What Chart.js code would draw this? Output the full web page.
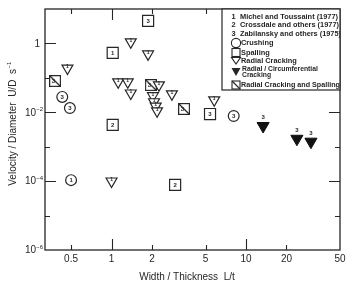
<!DOCTYPE html>
<html><head><meta charset="utf-8">
<script src="https://cdn.jsdelivr.net/npm/chart.js@4"></script>
<style>html,body{margin:0;padding:0;background:#fff;}#wrap{width:350px;height:289px;}</style>
</head><body><div id="wrap"><canvas id="c" width="350" height="289"></canvas></div>
<script>
// ---- data ----
const xTicks = [0.5, 1, 2, 5, 10, 20];
const xTickLabels = ['0.5', '1', '2', '5', '10', '20', '50'];
const xTickLabelValues = [0.5, 1, 2, 5, 10, 20, 50];
const xMajor = [1, 10];
const yTicks = [1, 1e-1, 1e-2, 1e-3, 1e-4, 1e-5];
const yLabelValues = [1, 1e-2, 1e-4, 1e-6];
const yLabelExp = ['0', '-2', '-4', '-6'];

const crushingX = [0.50, 0.43, 0.49, 8.1];
const crushingY = [1.07e-4, 0.028, 0.0133, 0.0078];
const crushingRef = ['1', '3', '3', '3'];

const spallingX = [1.02, 1.02, 1.87, 5.4, 2.97];
const spallingY = [0.53, 0.0043, 4.5, 0.0089, 7.8e-5];
const spallingRef = ['1', '2', '3', '3', '2'];

const radialX = [0.47, 1.39, 1.87, 1.12, 1.32, 1.39, 2.25, 2.03, 2.07, 2.13, 2.18, 2.81, 5.8, 1.0];
const radialY = [0.19, 1.1, 0.49, 0.076, 0.076, 0.036, 0.062, 0.030, 0.020, 0.015, 0.0109, 0.034, 0.0228, 1.0e-4];
const radialRef = ['1', '1', '1', '1', '1', '1', '1', '1', '1', '1', '1', '1', '1', '1'];

const circX = [13.4, 23.9, 30.4];
const circY = [0.0040, 0.0017, 0.0014];
const circRef = ['3', '3', '3'];

const rcsX = [0.38, 1.96, 3.46];
const rcsY = [0.081, 0.062, 0.0125];
const rcsRef = ['3', '3', '3'];

const refNums = ['1', '2', '3'];
const refNames = ['Michel and Toussaint (1977)', 'Crossdale and others (1977)', 'Zabilansky and others (1975)'];
const typeNames = ['Crushing', 'Spalling', 'Radial Cracking', 'Radial / Circumferential', 'Cracking', 'Radial Cracking and Spalling'];

const INK = '#262626';
const FONT = '"Liberation Sans", Arial, sans-serif';

function pts(xs, ys) { return xs.map((x, i) => ({ x: x, y: ys[i] })); }

// square with diagonal marker
function diagSquare(size) {
  const c = document.createElement('canvas');
  c.width = size; c.height = size;
  const g = c.getContext('2d');
  g.fillStyle = '#fff'; g.fillRect(0, 0, size, size);
  g.strokeStyle = INK; g.lineWidth = 1.2;
  g.strokeRect(0.6, 0.6, size - 1.2, size - 1.2);
  g.beginPath(); g.moveTo(1, 1); g.lineTo(size - 1, size - 1); g.stroke();
  return c;
}
const diagImg = diagSquare(12);

const refs = [crushingRef, spallingRef, radialRef, circRef, rcsRef];

const decor = {
  id: 'decor',
  beforeDatasetsDraw(chart) {
    const ctx = chart.ctx, a = chart.chartArea, xs = chart.scales.x, ys = chart.scales.y;
    ctx.save();
    ctx.strokeStyle = INK; ctx.lineWidth = 1.3;
    ctx.strokeRect(a.left, a.top, a.right - a.left, a.bottom - a.top);
    ctx.lineWidth = 1.1;
    ctx.beginPath();
    xTicks.forEach(v => {
      const px = Math.round(xs.getPixelForValue(v)) + 0.5;
      const len = xMajor.includes(v) ? 11 : 5;
      ctx.moveTo(px, a.bottom); ctx.lineTo(px, a.bottom - len);
      ctx.moveTo(px, a.top); ctx.lineTo(px, a.top + len);
    });
    yTicks.forEach(v => {
      const py = Math.round(ys.getPixelForValue(v)) + 0.5;
      const len = yLabelValues.includes(v) ? 11 : 5;
      ctx.moveTo(a.left, py); ctx.lineTo(a.left + len, py);
      ctx.moveTo(a.right, py); ctx.lineTo(a.right - len, py);
    });
    ctx.stroke();
    // x tick labels
    ctx.fillStyle = INK;
    ctx.font = '10px ' + FONT;
    ctx.textAlign = 'center'; ctx.textBaseline = 'middle';
    xTickLabelValues.forEach((v, i) => {
      ctx.fillText(xTickLabels[i], xs.getPixelForValue(v), a.bottom + 9);
    });
    // y tick labels with superscript exponents
    yLabelValues.forEach((v, i) => {
      const py = ys.getPixelForValue(v);
      const e = yLabelExp[i];
      ctx.textAlign = 'right';
      if (e === '0') {
        ctx.font = '10px ' + FONT;
        ctx.fillText('1', a.left - 5, py + 0.5);
      } else {
        ctx.font = '6px ' + FONT;
        const ew = ctx.measureText(e.replace('-', '\u2212')).width;
        ctx.fillText(e.replace('-', '\u2212'), a.left - 2, py - 3);
        ctx.font = '10px ' + FONT;
        ctx.fillText('10', a.left - 2 - ew, py + 0.5);
      }
    });
    // axis titles
    ctx.font = '10px ' + FONT;
    ctx.textAlign = 'center';
    ctx.fillText('Width / Thickness  L/t', 187, 277);
    ctx.save();
    ctx.translate(13, 124);
    ctx.rotate(-Math.PI / 2);
    const main = 'Velocity / Diameter  U/D  s';
    ctx.font = '10px ' + FONT;
    const mw = ctx.measureText(main).width;
    ctx.font = '6px ' + FONT;
    const sw = ctx.measureText('\u22121').width;
    const start = -(mw + sw) / 2;
    ctx.textAlign = 'left';
    ctx.font = '10px ' + FONT;
    ctx.fillText(main, start, 0);
    ctx.font = '6px ' + FONT;
    ctx.fillText('\u22121', start + mw + 0.5, -4);
    ctx.restore();
    ctx.restore();
  },
  afterDatasetsDraw(chart) {
    const ctx = chart.ctx;
    ctx.save();
    ctx.font = 'bold 6px ' + FONT;
    ctx.textAlign = 'center'; ctx.textBaseline = 'middle';
    chart.data.datasets.forEach((ds, di) => {
      const meta = chart.getDatasetMeta(di);
      meta.data.forEach((el, i) => {
        const lab = refs[di][i];
        ctx.fillStyle = INK;
        if (di === 3) {
          ctx.fillText(lab, el.x, el.y - 8.5);
        } else if (di === 2) {
          ctx.font = 'bold 5px ' + FONT;
          ctx.fillText(lab, el.x, el.y - 1.5);
          ctx.font = 'bold 6px ' + FONT;
        } else if (di === 4) {
          ctx.fillText(lab, el.x - 1.5, el.y + 0.5);
        } else {
          ctx.fillText(lab, el.x, el.y + 0.5);
        }
      });
    });
    ctx.restore();
  },
  afterDraw(chart) {
    const ctx = chart.ctx, a = chart.chartArea;
    const bx = 222, by = a.top, bw = a.right - 222, bh = 90 - a.top;
    ctx.save();
    ctx.fillStyle = '#fff';
    ctx.fillRect(bx, by, bw, bh);
    ctx.strokeStyle = INK; ctx.lineWidth = 1.2;
    ctx.strokeRect(bx, by, bw, bh);
    ctx.beginPath(); ctx.rect(bx, by, bw, bh); ctx.clip();
    ctx.fillStyle = INK;
    ctx.textBaseline = 'middle'; ctx.textAlign = 'left';
    ctx.font = 'bold 7.4px ' + FONT;
    const refY = [16.5, 25, 33.5];
    refNums.forEach((n, i) => {
      ctx.fillText(n, 231.5, refY[i]);
      ctx.fillText(refNames[i], 240, refY[i], 101);
    });
    // type icons
    ctx.lineWidth = 1.1;
    ctx.beginPath(); ctx.arc(236, 43, 4.6, 0, Math.PI * 2); ctx.stroke();
    ctx.strokeRect(232, 48.5, 8, 8);
    ctx.beginPath(); ctx.moveTo(231.5, 57.5); ctx.lineTo(240.5, 57.5); ctx.lineTo(236, 64); ctx.closePath(); ctx.stroke();
    ctx.beginPath(); ctx.moveTo(231.5, 68); ctx.lineTo(240.5, 68); ctx.lineTo(236, 76); ctx.closePath(); ctx.fill();
    ctx.strokeRect(232, 81, 8, 8);
    ctx.beginPath(); ctx.moveTo(232, 81); ctx.lineTo(240, 89); ctx.stroke();
    ctx.fillText(typeNames[0], 241, 43, 60);
    ctx.fillText(typeNames[1], 241, 52.5, 60);
    ctx.fillText(typeNames[2], 241, 61, 90);
    ctx.font = 'bold 6.8px ' + FONT;
    ctx.fillText(typeNames[3], 242, 69.5, 92);
    ctx.fillText(typeNames[4], 242, 75.5, 60);
    ctx.font = 'bold 7.4px ' + FONT;
    ctx.fillText(typeNames[5], 241, 85, 99);
    ctx.restore();
  }
};

new Chart(document.getElementById('c'), {
  type: 'scatter',
  data: {
    datasets: [
      { label: 'Crushing', data: pts(crushingX, crushingY), pointStyle: 'circle', radius: 5.4,
        backgroundColor: '#fff', borderColor: INK, borderWidth: 1.2 },
      { label: 'Spalling', data: pts(spallingX, spallingY), pointStyle: 'rect', radius: 7.8,
        backgroundColor: '#fff', borderColor: INK, borderWidth: 1.2 },
      { label: 'Radial Cracking', data: pts(radialX, radialY), pointStyle: 'triangle', rotation: 180, radius: 6.3,
        backgroundColor: '#fff', borderColor: INK, borderWidth: 1.2 },
      { label: 'Radial / Circumferential Cracking', data: pts(circX, circY), pointStyle: 'triangle', rotation: 180, radius: 7,
        backgroundColor: '#111', borderColor: '#111', borderWidth: 1 },
      { label: 'Radial Cracking and Spalling', data: pts(rcsX, rcsY), pointStyle: diagImg, radius: 6,
        backgroundColor: '#fff', borderColor: INK, borderWidth: 1.2 }
    ]
  },
  options: {
    responsive: false,
    animation: false,
    devicePixelRatio: 1,
    layout: { padding: { left: 45, right: 10, top: 9, bottom: 39 } },
    plugins: { legend: { display: false }, tooltip: { enabled: false } },
    scales: {
      x: { type: 'logarithmic', min: 0.32, max: 50, bounds: 'data', display: false },
      y: { type: 'logarithmic', min: 1e-6, max: 10, bounds: 'data', display: false }
    }
  },
  plugins: [decor]
});
</script>
</body></html>
